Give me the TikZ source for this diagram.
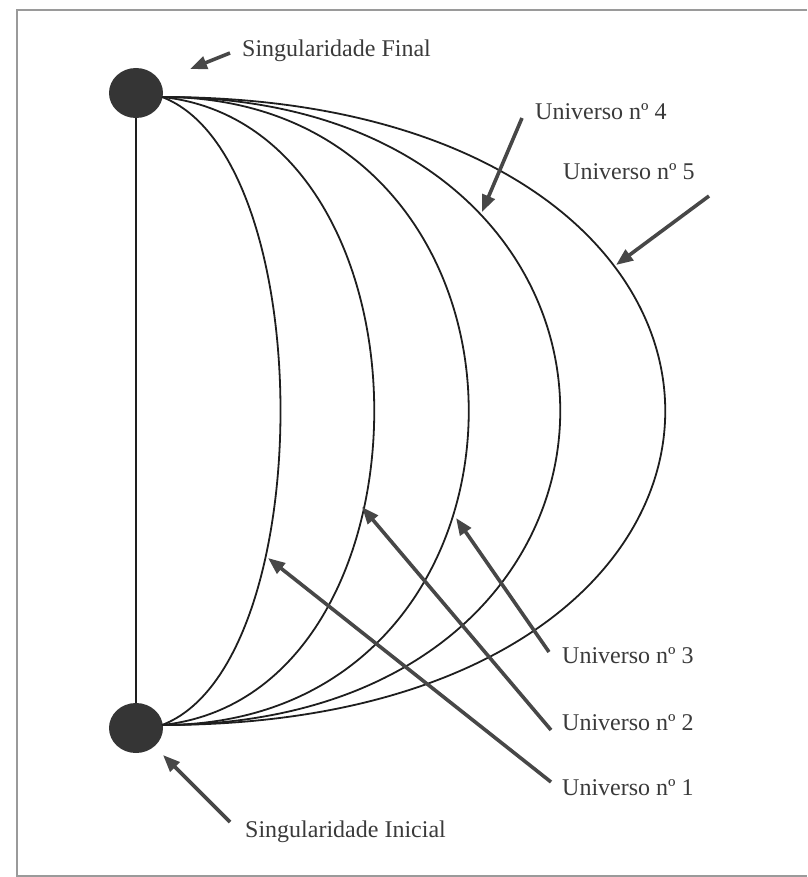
\documentclass[tikz,border=0pt]{standalone}
\usepackage{fontspec}
\setmainfont{Liberation Serif}
\usetikzlibrary{arrows.meta,shapes.geometric}
\definecolor{ink}{HTML}{1E1E1E}
\definecolor{arrowgray}{HTML}{474747}
\definecolor{textgray}{HTML}{3A3A3A}
\definecolor{framegray}{HTML}{9A9A9A}
\tikzset{
  sing/.style={ellipse, fill=ink!90, draw=none, minimum width=54pt, minimum height=50pt, inner sep=0pt},
  universe/.style={draw=ink, line width=1.8pt},
  pointer/.style={draw=arrowgray, line width=3.6pt, -{Triangle[length=17pt,width=13pt]}, shorten <=0pt},
  lbl/.style={anchor=base west, inner sep=0pt, text=textgray, font=\fontsize{24}{28}\selectfont},
}
\begin{document}
\begin{tikzpicture}[x=1pt,y=-1pt]
\useasboundingbox (0,0) rectangle (807,877);
% frame
\draw[framegray, line width=1.5pt] (807,10) -- (17,10) -- (17,876) -- (807,876);
% singularities
\node[sing] (top) at (136,93) {};
\node[sing] (bot) at (136,728) {};
\coordinate (ts) at (162,97);
\coordinate (bs) at (162,725);
\draw[ink, line width=2.4pt] (top) -- (bot);
% universes
\draw[universe] (ts) .. controls (320,157) and (320,665) .. (bs);
\draw[universe] (ts) .. controls (445,127) and (445,695) .. (bs);
\draw[universe] (ts) .. controls (571,97) and (571,725) .. (bs);
\draw[universe] (ts) .. controls (693,97) and (693,725) .. (bs);
\draw[universe] (ts) .. controls (833,97) and (833,725) .. (bs);
% labels
\node[lbl] (lfin) at (242,57) {Singularidade Final};
\node[lbl] (lini) at (245,837) {Singularidade Inicial};
\node[lbl] (u4) at (535,120) {Universo nº 4};
\node[lbl] (u5) at (563,180) {Universo nº 5};
\node[lbl] (u3) at (562,663) {Universo nº 3};
\node[lbl] (u2) at (562,730) {Universo nº 2};
\node[lbl] (u1) at (562,795) {Universo nº 1};
% arrow ends
\coordinate (afin0) at (230,53);  \coordinate (afin1) at (190,69);
\coordinate (aini0) at (230,822); \coordinate (aini1) at (163,755);
\coordinate (a40) at (522,118);   \coordinate (a41) at (482,212);
\coordinate (a50) at (709,196);   \coordinate (a51) at (616,265);
\coordinate (a30) at (549,652);   \coordinate (a31) at (456,518);
\coordinate (a20) at (551,730);   \coordinate (a21) at (362,507);
\coordinate (a10) at (551,782);   \coordinate (a11) at (268,558);
\draw[pointer] (afin0) -- (afin1);
\draw[pointer] (aini0) -- (aini1);
\draw[pointer] (a40) -- (a41);
\draw[pointer] (a50) -- (a51);
\draw[pointer] (a30) -- (a31);
\draw[pointer] (a20) -- (a21);
\draw[pointer] (a10) -- (a11);
\end{tikzpicture}
\end{document}
